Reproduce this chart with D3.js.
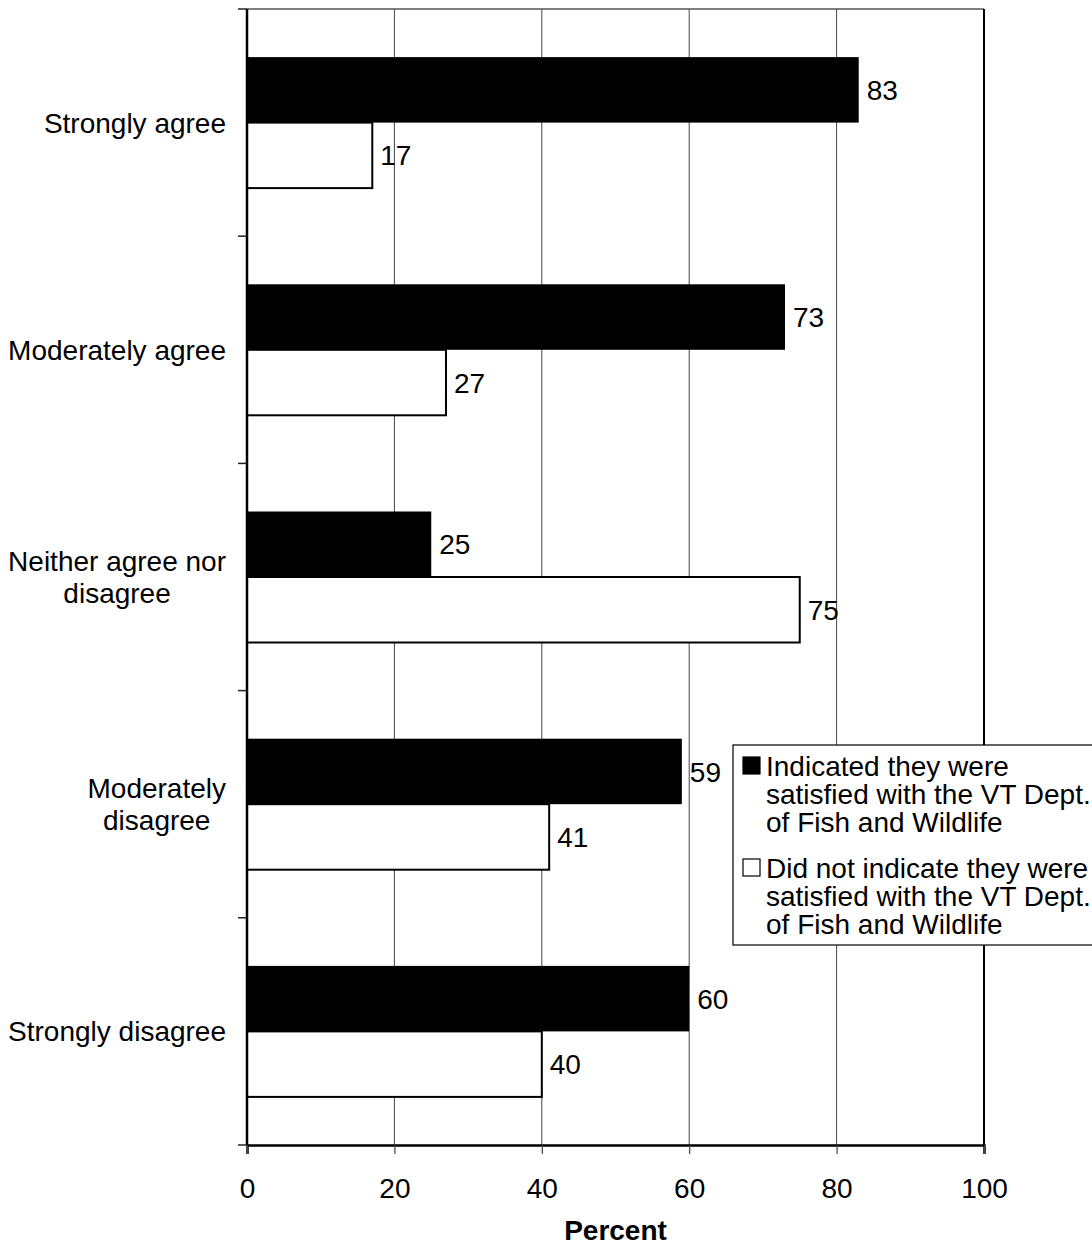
<!DOCTYPE html>
<html>
<head>
<meta charset="utf-8">
<script src="https://cdn.jsdelivr.net/npm/d3@7"></script>
<style>
  html, body { margin: 0; padding: 0; background: #fff; }
  svg { display: block; font-family: "Liberation Sans", Arial, sans-serif; }
</style>
</head>
<body>
<svg id="chart" width="1092" height="1246"></svg>
<script>
// Response categories (top to bottom)
const categories = [
  ["Strongly agree"],
  ["Moderately agree"],
  ["Neither agree nor", "disagree"],
  ["Moderately", "disagree"],
  ["Strongly disagree"]
];
// Percent of respondents in each group
const satisfied = [83, 73, 25, 59, 60];
const notSatisfied = [17, 27, 75, 41, 40];
const seriesNames = [
  ["Indicated they were", "satisfied with the VT Dept.", "of Fish and Wildlife"],
  ["Did not indicate they were", "satisfied with the VT Dept.", "of Fish and Wildlife"]
];
const xTicks = [0, 20, 40, 60, 80, 100];
const xTitle = "Percent";

const svg = d3.select("#chart");
const plot = { left: 247, right: 984, top: 9, bottom: 1145 };
const fontSize = 28;

const x = d3.scaleLinear().domain([0, 100]).range([plot.left, plot.right]);
const pad = 1 - 131 / ((plot.bottom - plot.top) / categories.length);
const y = d3.scaleBand()
  .domain(d3.range(categories.length))
  .range([plot.top, plot.bottom])
  .paddingInner(pad)
  .paddingOuter(pad / 2);
const sub = d3.scaleBand().domain([0, 1]).range([0, y.bandwidth()]);

// vertical gridlines
svg.append("g")
  .selectAll("line")
  .data(xTicks.filter(t => t > 0 && t < 100))
  .join("line")
  .attr("x1", d => x(d)).attr("x2", d => x(d))
  .attr("y1", plot.top).attr("y2", plot.bottom)
  .attr("stroke", "#444").attr("stroke-width", 1);

// plot frame: top and right edges
svg.append("line")
  .attr("x1", plot.left).attr("x2", plot.right)
  .attr("y1", plot.top).attr("y2", plot.top)
  .attr("stroke", "#555").attr("stroke-width", 1.5);
svg.append("line")
  .attr("x1", plot.right).attr("x2", plot.right)
  .attr("y1", plot.top).attr("y2", plot.bottom)
  .attr("stroke", "#000").attr("stroke-width", 2);

// bars
const rows = categories.map((c, i) => ({ i, a: satisfied[i], b: notSatisfied[i] }));
const g = svg.append("g");
g.selectAll("rect.sat")
  .data(rows).join("rect")
  .attr("class", "sat")
  .attr("x", x(0))
  .attr("y", d => y(d.i) + sub(0))
  .attr("width", d => x(d.a) - x(0))
  .attr("height", sub.bandwidth())
  .attr("fill", "#000");
g.selectAll("rect.not")
  .data(rows).join("rect")
  .attr("class", "not")
  .attr("x", x(0))
  .attr("y", d => y(d.i) + sub(1))
  .attr("width", d => x(d.b) - x(0))
  .attr("height", sub.bandwidth())
  .attr("fill", "#fff")
  .attr("stroke", "#000").attr("stroke-width", 2);

// value labels
const labelPad = 8;
g.selectAll("text.vsat")
  .data(rows).join("text")
  .attr("x", d => x(d.a) + labelPad)
  .attr("y", d => y(d.i) + sub(0) + sub.bandwidth() / 2 + fontSize * 0.36)
  .attr("font-size", fontSize)
  .text(d => d.a);
g.selectAll("text.vnot")
  .data(rows).join("text")
  .attr("x", d => x(d.b) + labelPad)
  .attr("y", d => y(d.i) + sub(1) + sub.bandwidth() / 2 + fontSize * 0.36)
  .attr("font-size", fontSize)
  .text(d => d.b);

// y axis (category ticks at band boundaries)
const yAxisG = svg.append("g");
yAxisG.append("line")
  .attr("x1", plot.left).attr("x2", plot.left)
  .attr("y1", plot.top).attr("y2", plot.bottom)
  .attr("stroke", "#000").attr("stroke-width", 2.5);
const step = y.step();
yAxisG.selectAll("line.tick")
  .data(d3.range(categories.length + 1))
  .join("line")
  .attr("x1", plot.left - 9).attr("x2", plot.left)
  .attr("y1", d => plot.top + d * step).attr("y2", d => plot.top + d * step)
  .attr("stroke", "#222").attr("stroke-width", 1.5);

// category labels, centred as a block and right-aligned
const lineH = 32;
categories.forEach((lines, i) => {
  const t = svg.append("text").attr("font-size", fontSize).attr("text-anchor", "middle");
  const cy = y(i) + y.bandwidth() / 2;
  const startY = cy - (lines.length - 1) * lineH / 2 + fontSize * 0.36;
  lines.forEach((s, k) => {
    t.append("tspan").attr("y", startY + k * lineH).text(s);
  });
  let w = 0;
  t.selectAll("tspan").each(function () { w = Math.max(w, this.getComputedTextLength()); });
  t.selectAll("tspan").attr("x", 226 - w / 2);
});

// x axis
const xAxis = d3.axisBottom(x).tickValues(xTicks).tickSize(9).tickPadding(24);
const xg = svg.append("g").attr("transform", `translate(0,${plot.bottom})`).call(xAxis);
xg.select(".domain").attr("stroke", "#000").attr("stroke-width", 2.5);
xg.selectAll(".tick line").attr("stroke", "#444").attr("stroke-width", 1.2);
xg.selectAll(".tick text")
  .attr("font-size", fontSize)
  .attr("font-family", "Liberation Sans, Arial, sans-serif")
  .attr("fill", "#000");

svg.append("text")
  .attr("x", (plot.left + plot.right) / 2)
  .attr("y", 1240)
  .attr("text-anchor", "middle")
  .attr("font-size", fontSize)
  .attr("font-weight", "bold")
  .text(xTitle);

// legend
const leg = svg.append("g");
leg.append("rect")
  .attr("x", 733).attr("y", 745)
  .attr("width", 420).attr("height", 200)
  .attr("fill", "#fff").attr("stroke", "#000").attr("stroke-width", 1.2);
const legLine = 28;
const blockTop = [776, 878];
seriesNames.forEach((lines, k) => {
  const by = blockTop[k];
  leg.append("rect")
    .attr("x", 743).attr("y", by - 19)
    .attr("width", 17).attr("height", 17)
    .attr("fill", k === 0 ? "#000" : "#fff")
    .attr("stroke", "#000").attr("stroke-width", 1.2);
  const t = leg.append("text").attr("font-size", fontSize);
  lines.forEach((s, j) => {
    t.append("tspan").attr("x", 766).attr("y", by + j * legLine).text(s);
  });
});
</script>
</body>
</html>
